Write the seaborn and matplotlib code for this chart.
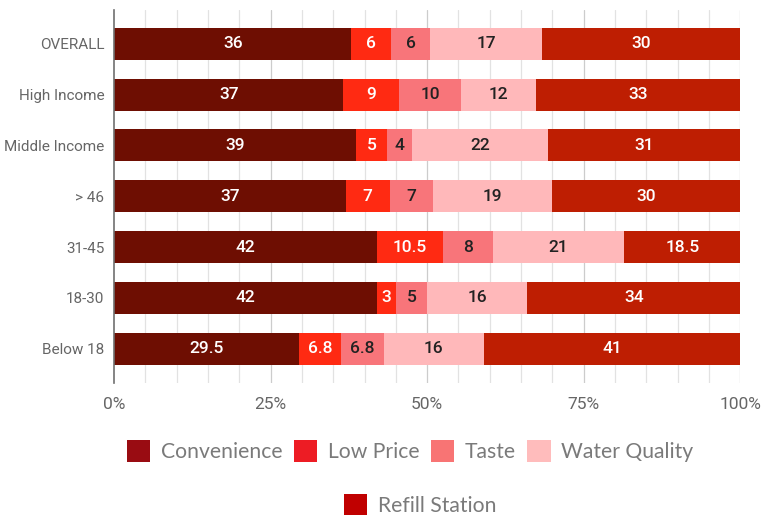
import numpy as np
import pandas as pd
import seaborn as sns
import matplotlib.pyplot as plt
from matplotlib.patches import Patch
from matplotlib import font_manager

groups = ["OVERALL", "High Income", "Middle Income", "> 46", "31-45", "18-30", "Below 18"]
series = ["Convenience", "Low Price", "Taste", "Water Quality", "Refill Station"]
convenience = [36, 37, 39, 37, 42, 42, 29.5]
low_price = [6, 9, 5, 7, 10.5, 3, 6.8]
taste = [6, 10, 4, 7, 8, 5, 6.8]
water_quality = [17, 12, 22, 19, 21, 16, 16]
refill_station = [30, 33, 31, 30, 18.5, 34, 41]
x_ticks = [0, 25, 50, 75, 100]
x_tick_labels = ["0%", "25%", "50%", "75%", "100%"]

bar_colors = ["#6E0E02", "#FF2A12", "#F8757A", "#FFB8BA", "#BE1E02"]
legend_colors = ["#990C12", "#ED1C24", "#F87474", "#FFBCBC", "#C00000"]
text_colors = ["white", "white", "#222222", "#222222", "white"]

sns.set_theme(style="white")
available = {f.name for f in font_manager.fontManager.ttflist}
narrow = "Liberation Sans Narrow" if "Liberation Sans Narrow" in available else "Roboto"
plt.rcParams["font.family"] = [narrow, "DejaVu Sans"]

df = pd.DataFrame(
    {"group": groups, "Convenience": convenience, "Low Price": low_price,
     "Taste": taste, "Water Quality": water_quality, "Refill Station": refill_station}
)
values = df[series].to_numpy(dtype=float)
pct = values / values.sum(axis=1, keepdims=True) * 100
cum = np.cumsum(pct, axis=1)

fig = plt.figure(figsize=(7.71, 5.15), dpi=100)
ax = fig.add_axes([0.148, 0.256, 0.812, 0.725])

# minor vertical grid every 5%, drawn beneath the bars
for v in range(5, 101, 5):
    ax.axvline(v, color="#CCCCCC" if v % 25 == 0 else "#E2E2E2", lw=0.9, zorder=0)

# stacked bars: draw the cumulative totals from the outermost layer inward
for i in range(len(series) - 1, -1, -1):
    layer = pd.DataFrame({"group": groups, "x": cum[:, i]})
    sns.barplot(data=layer, x="x", y="group", order=groups, orient="h",
                color=bar_colors[i], saturation=1, width=0.63, ax=ax,
                edgecolor="none", zorder=2)

for r in range(len(groups)):
    start = 0.0
    for i in range(len(series)):
        mid = start + pct[r, i] / 2
        v = values[r, i]
        ax.text(mid, r, f"{v:g}", ha="center", va="center", fontsize=12.5,
                fontweight="medium", color=text_colors[i], zorder=3)
        start += pct[r, i]

ax.set_xlim(0, 100)
ax.set_ylim(6.68, -0.67)
ax.set_xticks(x_ticks)
ax.set_xticklabels(x_tick_labels)
ax.set_xlabel("")
ax.set_ylabel("")
for s in ["top", "right", "bottom"]:
    ax.spines[s].set_visible(False)
ax.spines["left"].set_color("#6F6F6F")
ax.spines["left"].set_linewidth(1.2)
ax.tick_params(axis="x", labelsize=12.5, colors="#666666", length=0, pad=10)
ax.tick_params(axis="y", labelsize=11, colors="#666666", length=0, pad=7)

legend_font = {"family": ["Lato", "DejaVu Sans"], "size": 15.2}
handles = [Patch(facecolor=c, edgecolor="none") for c in legend_colors]
leg1 = fig.legend(handles[:4], series[:4], loc="center", bbox_to_anchor=(0.532, 0.124),
                  ncol=4, frameon=False, prop=legend_font, handlelength=1.1,
                  handleheight=1.2, handletextpad=0.5, columnspacing=0.55)
leg2 = fig.legend(handles[4:], series[4:], loc="center", bbox_to_anchor=(0.545, 0.019),
                  ncol=1, frameon=False, prop=legend_font, handlelength=1.1,
                  handleheight=1.2, handletextpad=0.5)
for leg in (leg1, leg2):
    for t in leg.get_texts():
        t.set_color("#7A7A7A")

fig.savefig("out.png", dpi=100)
